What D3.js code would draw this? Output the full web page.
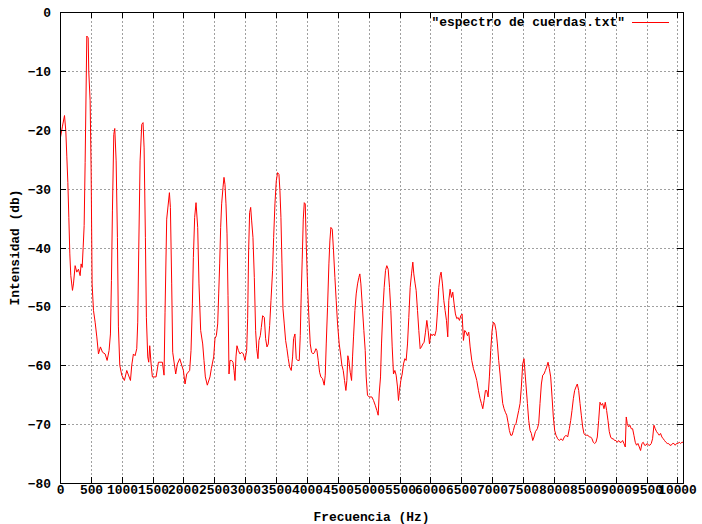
<!DOCTYPE html>
<html><head><meta charset="utf-8">
<script src="https://cdn.jsdelivr.net/npm/d3@7"></script>
<style>
body{margin:0;background:#fff}
svg{display:block}
text{font-family:"Liberation Mono","DejaVu Sans Mono",monospace;font-weight:bold;font-size:12.9px;fill:#000}
</style></head><body>
<svg width="702" height="524"></svg>
<script>
// ---- data ----
const seriesName = "\"espectro de cuerdas.txt\"";
const xLabel = "Frecuencia (Hz)";
const yLabel = "Intensidad (db)";
const xTicks = [0,500,1000,1500,2000,2500,3000,3500,4000,4500,5000,5500,6000,6500,7000,7500,8000,8500,9000,9500,10000];
const yTicks = [0,-10,-20,-30,-40,-50,-60,-70,-80];
const xDomain = [0, 10090];
const yDomain = [-80, 0];

const freq = [
0,32,65,86,102,119,135,151,167,194,210,237,264,291,318,334,351,367,383,399,426,448,458,480,496,512,534,561,588,615,647,680,723,755,787,809,825,841,863,879,901,922,938,960,992,1035,1073,1133,1154,1181,1208,1235,1251,1267,1289,1316,1337,1354,1375,1391,1413,1429,1445,1467,1488,1548,1586,1650,1677,1693,1720,1764,1780,1801,1817,1866,1893,1931,1963,1990,2017,2044,2092,2114,2136,2152,2173,2195,2222,2243,2270,2303,2324,2346,2378,2421,2443,2481,
2502,2524,2546,2562,2578,2594,2610,2632,2648,2664,2680,2697,2713,2729,2745,2772,2794,2810,2826,2842,2858,2880,2907,2934,2961,2988,3015,3031,3047,3063,3080,3096,3117,3139,3160,3177,3198,3214,3236,3252,3274,3301,3322,3344,3365,3387,3409,3435,3452,3473,3495,3516,3538,3554,3570,3587,3603,3624,3646,3667,3689,3711,3737,3759,3775,3797,3818,3840,3867,3883,3899,3915,3932,3948,3964,3980,4002,4023,4045,4066,4093,4115,4137,4153,4174,4196,4217,4244,4271,4288,4304,4325,4347,4363,4379,4401,4422,4444,4465,4487,4514,4536,4557,4579,4600,4622,4638,4654,4670,4692,4714,4730,4746,4768,4789,4811,4832,4848,4865,4886,4913,4935,4951,4972,4999,
5043,5070,5097,5124,5145,5161,5183,5199,5221,5242,5264,5285,5307,5329,5350,5372,5393,5415,5436,5458,5474,5490,5512,5534,5555,5577,5598,5620,5641,5663,5685,5706,5722,5744,5760,5782,5803,5825,5846,5868,5889,5911,5933,5954,5976,5997,6019,6040,6062,6084,6105,6127,6148,6164,6186,6208,6229,6251,6272,6289,6310,6332,6353,6375,6396,6418,6440,6461,6483,6504,6526,6547,6569,6591,6612,6634,6661,6688,6715,6742,6769,6796,6817,6839,6860,6882,6903,6925,6946,6968,6990,7011,7033,7054,7076,7097,7119,7141,7162,7184,7205,7227,7248,7270,7292,7313,7335,7356,7378,7399,7421,7443,7464,7486,7507,7529,
7562,7583,7605,7626,7648,7669,7691,7723,7745,7766,7788,7810,7831,7853,7874,7896,7917,7939,7961,7982,8004,8025,8052,8079,8106,8133,8160,8187,8214,8241,8263,8284,8306,8327,8349,8370,8392,8414,8435,8457,8478,8500,8521,8543,8565,8586,8608,8629,8651,8672,8694,8716,8737,8759,8780,8802,8823,8845,8867,8888,8910,8931,8953,8974,8996,9018,9039,9061,9082,9104,9125,9147,9163,9179,9201,9222,9244,9266,9287,9309,9330,9352,9374,9395,9417,9438,9460,9481,9503,9525,9546,9568,9589,9611,9632,9654,9676,9697,9719,9740,9762,9783,9805,9827,9848,9870,9891,9913,9935,9956,9978,9999,10021,10043,10064,10086
];
const db = [
-21.2,-19.3,-17.5,-20.1,-24.4,-28.9,-34.8,-41.0,-44.7,-47.2,-46.1,-43.0,-44.1,-43.6,-44.7,-42.7,-43.3,-39.9,-36.2,-25.5,-4.0,-4.3,-10.0,-15.0,-26.9,-46.1,-50.6,-52.6,-55.1,-58.0,-56.8,-57.7,-58.0,-59.1,-57.4,-54.6,-45.5,-33.7,-20.7,-19.7,-25.2,-38.2,-53.4,-59.9,-61.6,-62.5,-60.8,-62.5,-59.9,-58.0,-58.3,-57.1,-52.6,-40.5,-25.2,-19.0,-18.7,-23.0,-38.2,-51.8,-58.5,-59.4,-56.6,-59.7,-61.9,-61.9,-59.4,-59.4,-61.6,-50.9,-35.1,-30.6,-33.1,-46.1,-57.7,-61.4,-59.7,-58.8,-59.9,-60.8,-63.1,-61.4,-60.8,-57.4,-49.5,-41.6,-34.8,-32.3,-36.5,-46.1,-54.0,-56.3,-59.1,-61.9,-63.3,-61.9,-60.5,-58.5,
-55.4,-54.9,-52.9,-47.8,-42.7,-36.5,-32.5,-29.7,-28.0,-29.2,-32.5,-37.6,-48.1,-61.4,-59.1,-59.1,-59.4,-60.8,-62.5,-58.5,-56.6,-57.4,-58.0,-57.7,-58.0,-59.1,-57.4,-52.0,-40.5,-34.0,-33.1,-35.4,-38.2,-45.0,-54.0,-57.1,-58.8,-55.7,-54.9,-53.5,-51.5,-51.8,-55.4,-56.8,-56.3,-53.2,-48.9,-43.8,-38.2,-32.5,-28.6,-27.2,-27.5,-30.3,-34.8,-42.7,-50.3,-52.9,-55.7,-57.1,-58.8,-60.2,-60.8,-58.5,-55.4,-54.6,-58.8,-59.1,-59.1,-54.9,-47.8,-41.9,-35.1,-32.3,-32.5,-39.3,-46.7,-51.8,-56.3,-57.7,-58.0,-57.7,-57.1,-57.4,-59.1,-61.1,-61.9,-62.2,-63.3,-61.6,-56.3,-50.1,-42.7,-38.8,-36.5,-36.8,-40.5,-45.0,-48.9,-52.9,-56.3,-58.0,-59.9,-60.8,-62.5,-64.2,-62.5,-58.3,-59.1,-61.1,-62.5,-58.5,-55.1,-50.6,-47.8,-46.1,-45.0,-44.4,-46.1,-49.5,-54.0,-57.4,-61.9,-65.0,-65.3,
-65.3,-65.9,-66.7,-67.6,-68.4,-64.8,-61.9,-56.3,-50.6,-46.7,-43.8,-43.0,-43.6,-46.7,-50.6,-56.8,-61.4,-60.8,-61.6,-63.6,-65.9,-64.2,-62.5,-61.4,-59.7,-58.8,-59.1,-56.3,-51.8,-46.7,-44.4,-42.4,-44.4,-46.1,-47.2,-50.6,-54.0,-57.1,-56.8,-56.3,-56.0,-54.3,-52.3,-54.0,-56.3,-54.6,-54.9,-54.6,-54.9,-54.0,-50.9,-46.7,-44.7,-44.1,-46.1,-48.9,-50.6,-52.3,-55.1,-48.9,-47.0,-48.4,-47.5,-49.5,-51.2,-52.0,-51.8,-52.3,-51.5,-51.2,-55.7,-54.0,-54.3,-54.9,-54.3,-56.8,-59.1,-60.5,-61.4,-62.5,-64.2,-65.6,-66.4,-67.3,-65.9,-64.2,-64.2,-65.3,-61.9,-57.4,-54.0,-52.6,-52.9,-54.0,-56.3,-59.1,-61.4,-64.2,-66.4,-67.3,-67.9,-68.4,-69.6,-71.0,-71.8,-71.8,-71.0,-70.1,-69.8,-68.7,-67.6,-66.4,-63.6,-59.7,-58.8,-61.9,
-66.4,-69.3,-71.0,-71.5,-72.7,-72.1,-71.2,-70.7,-69.8,-66.4,-63.1,-61.6,-61.4,-60.8,-60.2,-59.4,-60.5,-61.9,-65.3,-68.7,-71.0,-71.8,-72.4,-72.7,-72.4,-72.7,-72.1,-71.8,-72.1,-70.7,-69.3,-67.6,-65.6,-64.2,-63.6,-63.1,-64.2,-66.4,-68.4,-70.4,-71.5,-71.8,-71.8,-71.8,-72.1,-72.1,-72.4,-73.0,-73.2,-73.0,-72.1,-69.3,-66.2,-66.7,-66.4,-67.3,-66.2,-67.6,-69.3,-71.2,-72.1,-72.4,-72.4,-72.7,-72.7,-73.0,-72.7,-73.0,-73.0,-72.7,-73.2,-73.8,-68.7,-69.8,-70.4,-70.1,-70.7,-70.7,-71.8,-73.0,-73.5,-73.2,-73.8,-74.4,-73.2,-73.0,-73.5,-73.5,-73.2,-73.5,-73.5,-73.2,-72.4,-70.1,-70.7,-71.2,-71.5,-71.8,-71.5,-72.1,-72.4,-72.7,-73.0,-73.2,-73.2,-73.5,-73.5,-73.2,-73.2,-73.5,-73.2,-73.2,-73.0,-73.2,-73.0,-73.0
];

// ---- drawing ----
const svg = d3.select("svg");
const L = 60, R = 683, T = 12, B = 483;

const x = d3.scaleLinear().domain(xDomain).range([L, R]);
const y = d3.scaleLinear().domain(yDomain).range([B, T]);
const xr = x.copy().interpolate(d3.interpolateRound);
const yr = y.copy().interpolate(d3.interpolateRound);

// grid
const gx = svg.append("g").attr("transform", `translate(0,${B})`)
  .call(d3.axisBottom(xr).tickValues(xTicks).tickSize(-(B - T)).tickFormat(""));
const gy = svg.append("g").attr("transform", `translate(${L},0)`)
  .call(d3.axisLeft(yr).tickValues(yTicks).tickSize(-(R - L)).tickFormat(""));
[gx, gy].forEach(g => {
  g.select(".domain").remove();
  g.selectAll("line").attr("stroke", "#a0a0a0").attr("stroke-dasharray", "2,2");
});

// data line
const data = freq.map((f, i) => [f, db[i]]);
svg.append("path")
  .datum(data)
  .attr("transform", "translate(0.5,0.5)")
  .attr("fill", "none")
  .attr("stroke", "#ff0000")
  .attr("stroke-width", 1)
  .attr("d", d3.line().x(d => x(d[0])).y(d => y(d[1])));

// axes (inward ticks, mirrored)
const ab = svg.append("g").attr("transform", `translate(0,${B})`)
  .call(d3.axisBottom(xr).tickValues(xTicks).tickSize(-6).tickFormat(d3.format("d")));
ab.selectAll("text").attr("y", 11).attr("dy", null);
const at = svg.append("g").attr("transform", `translate(0,${T})`)
  .call(d3.axisTop(xr).tickValues(xTicks).tickSize(-6).tickFormat(""));
const al = svg.append("g").attr("transform", `translate(${L},0)`)
  .call(d3.axisLeft(yr).tickValues(yTicks).tickSize(-6).tickFormat(d3.format("d")));
al.selectAll("text").attr("x", -9).attr("dy", null).attr("dominant-baseline", null)
  .attr("transform", "translate(0,4.5)");
const ar = svg.append("g").attr("transform", `translate(${R},0)`)
  .call(d3.axisRight(yr).tickValues(yTicks).tickSize(-6).tickFormat(""));
[ab, at, al, ar].forEach(g => {
  g.select(".domain").remove();
  g.attr("font-family", null).attr("font-size", null);
  g.selectAll("line").attr("stroke", "#000");
});

// frame
svg.append("rect")
  .attr("x", L + 0.5).attr("y", T + 0.5)
  .attr("width", R - L).attr("height", B - T)
  .attr("fill", "none").attr("stroke", "#000").attr("stroke-width", 1);

// axis labels
svg.append("text").attr("x", (L + R) / 2).attr("y", 521)
  .attr("text-anchor", "middle").text(xLabel);
svg.append("text").attr("transform", `translate(19,${(T + B) / 2}) rotate(-90)`)
  .attr("text-anchor", "middle").text(yLabel);

// legend
svg.append("text").attr("x", 625).attr("y", 26).attr("text-anchor", "end").text(seriesName);
svg.append("line").attr("x1", 632).attr("x2", 669).attr("y1", 22.5).attr("y2", 22.5)
  .attr("stroke", "#ff0000").attr("stroke-width", 1);
</script>
</body></html>
